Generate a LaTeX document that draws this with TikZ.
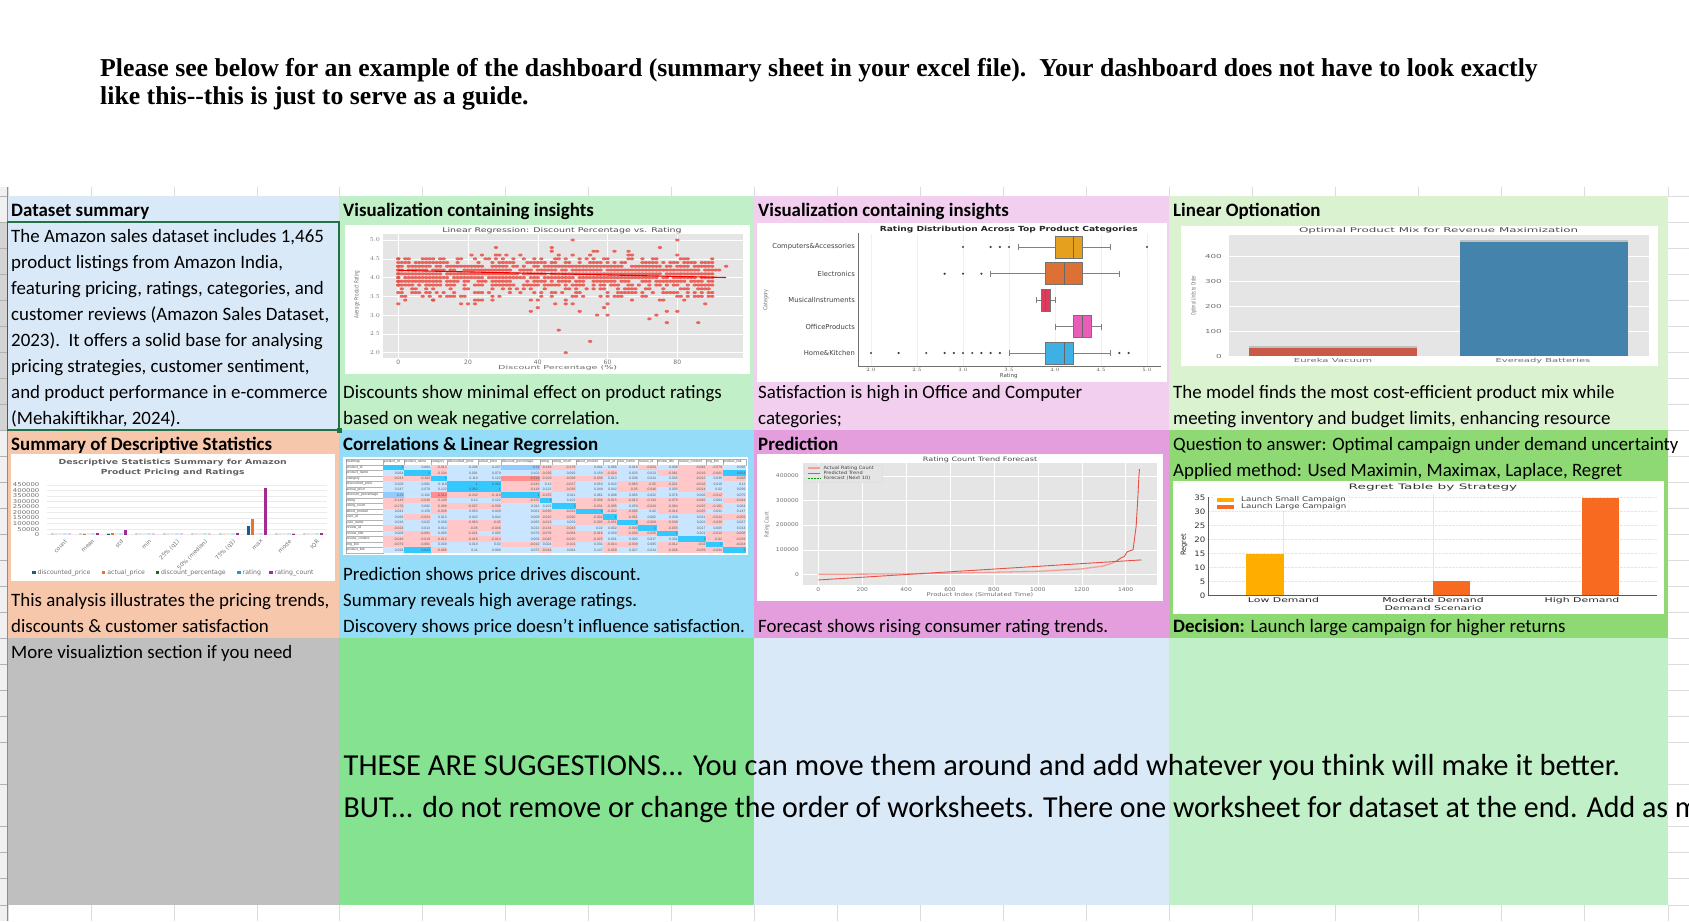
\documentclass[tikz,border=0pt]{standalone}
\usepackage{fontspec}
\usepackage{graphicx}
\setmainfont{Carlito}
\newfontfamily\chartf{DejaVu Sans}
\newfontfamily\heatf{Liberation Sans}
\newfontfamily\titlef{Liberation Serif}
\newcommand{\cf}[1]{\chartf\fontsize{#1}{#1}\selectfont}
\newcommand{\hs}[2]{\scalebox{#1}[1]{#2}}
\definecolor{cA}{HTML}{DAE9F8}\definecolor{cB}{HTML}{C1F0C8}\definecolor{cC}{HTML}{F2CEEF}\definecolor{cD}{HTML}{DAF2D0}
\definecolor{cE}{HTML}{F7C7AC}\definecolor{cF}{HTML}{94DCF8}\definecolor{cG}{HTML}{E49EDD}\definecolor{cH}{HTML}{8ED973}
\definecolor{cI}{HTML}{BFBFBF}\definecolor{cJ}{HTML}{84E291}
\definecolor{gridc}{HTML}{DCDCDC}\definecolor{plotbg}{HTML}{E5E5E5}\definecolor{sel}{HTML}{217346}
\definecolor{tickc}{HTML}{707070}\definecolor{hpink}{HTML}{FFC7C7}\definecolor{hred}{HTML}{FF8F8F}
\definecolor{hblue}{HTML}{C9E5FF}\definecolor{hmid}{HTML}{92CBFF}\definecolor{hcyan}{HTML}{33C9FF}
\definecolor{ptc}{HTML}{EA4F45}\definecolor{lyel}{HTML}{FFAE00}\definecolor{lor}{HTML}{F76A20}
\definecolor{dteal}{HTML}{156082}\definecolor{dor}{HTML}{E97132}\definecolor{dgr}{HTML}{196B24}\definecolor{dbl}{HTML}{0F9ED5}\definecolor{dpu}{HTML}{A02B93}
\definecolor{mred}{HTML}{C85A47}\definecolor{mblu}{HTML}{4484AC}
\definecolor{bA}{HTML}{E5A11E}\definecolor{bB}{HTML}{DD7035}\definecolor{bC}{HTML}{DB3D5B}\definecolor{bD}{HTML}{E85DB8}\definecolor{bE}{HTML}{3FB0E4}
\tikzset{
 x=1pt,y=-1pt,
 body/.style={anchor=base west,inner sep=0pt,font=\fontsize{18.9}{20}\selectfont},
 head/.style={anchor=base west,inner sep=0pt,font=\bfseries\fontsize{18.9}{20}\selectfont},
 big/.style={anchor=base west,inner sep=0pt,font=\fontsize{30.5}{32}\selectfont},
 ttl/.style={anchor=base west,inner sep=0pt,font=\titlef\bfseries\fontsize{25.75}{27}\selectfont},
 ct/.style={inner sep=0pt,text=tickc},
 gl/.style={color=gridc,line width=0.8pt},
}
\newcommand{\boxrow}[9]{%
 % y, colour, wl, wh, q1, q3, med, name, fliers
 \pgfmathsetmacro\wa{871+(#3-2)*92}\pgfmathsetmacro\wb{871+(#4-2)*92}
 \pgfmathsetmacro\qa{871+(#5-2)*92}\pgfmathsetmacro\qb{871+(#6-2)*92}\pgfmathsetmacro\mm{871+(#7-2)*92}
 \draw[black!50,line width=.8pt] (\wa,#1) -- (\wb,#1);
 \draw[black!50,line width=.8pt] (\wa,#1-3) -- (\wa,#1+3) (\wb,#1-3) -- (\wb,#1+3);
 \draw[black!55,fill=#2,line width=.8pt] (\qa,#1-11) rectangle (\qb,#1+11);
 \draw[black!60,line width=.9pt] (\mm,#1-11) -- (\mm,#1+11);
 \node[ct,anchor=east,text=black!75,font=\cf{6.8}] at (855,#1) {#8};
 \foreach \ff in {#9}{
  \pgfmathsetmacro\fx{871+(\ff-2)*92}
  \fill[black!75] (\fx,#1) circle (1.2);
 }
}
\begin{document}
\begin{tikzpicture}
\useasboundingbox (0,0) rectangle (1689,921);
\clip (0,0) rectangle (1689,921);
\fill[white] (0,0) rectangle (1689,921);
% sheet grid on white
\fill[black!6] (0,187) rectangle (7,921);
\fill[black!17] (0,222) rectangle (7,430);
\foreach \gx in {8,91,174,257,339,422,505,588,671,754,837,920,1003,1086,1169,1252,1335,1418,1501,1584,1668}{
 \draw[gl] (\gx,187) -- (\gx,196);
 \draw[gl] (\gx,905) -- (\gx,921);
}
\foreach \gy in {196,222,248,274,300,326,352,378,404,430,456,482,508,534,560,586,612,638,664,690,716,742,784,826,852,878,905}{
 \draw[gl] (1668,\gy) -- (1689,\gy);
 \draw[color=black!30,line width=0.6pt] (0,\gy) -- (7,\gy);
}
\draw[color=black!45,line width=0.9pt] (7.5,187) -- (7.5,921);
% cell fills
\foreach \xa/\ya/\xb/\yb/\cc in {8/196/339/430/cA,339/196/754/430/cB,754/196/1169/430/cC,1169/196/1668/430/cD,
 8/430/339/638/cE,339/430/754/638/cF,754/430/1169/638/cG,1169/430/1668/638/cH,
 8/638/339/905/cI,339/638/754/905/cJ,754/638/1169/905/cA,1169/638/1668/905/cB}{
 \fill[\cc] (\xa,\ya) rectangle (\xb,\yb);
}
% title
\node[ttl] (title1) at (100,76) {Please see below for an example of the dashboard (summary sheet in your excel file).\ \ Your dashboard does not have to look exactly};
\node[ttl] (title2) at (100,104) {like this--this is just to serve as a guide.};
% headers
\node[head] (h1) at (11,216) {Dataset summary};
\node[head] (h2) at (343,216) {Visualization containing insights};
\node[head] (h3) at (758,216) {Visualization containing insights};
\node[head] (h4) at (1173,216) {Linear Optionation};
\node[head] (h5) at (11,450) {Summary of Descriptive Statistics};
\node[head] (h6) at (343,450) {Correlations \& Linear Regression};
\node[head] (h7) at (758,450) {Prediction};
% column 1 text
\node[body] (a1) at (11,242) {The Amazon sales dataset includes 1,465};
\node[body] (a2) at (11,268) {product listings from Amazon India,};
\node[body] (a3) at (11,294) {featuring pricing, ratings, categories, and};
\node[body] (a4) at (11,320) {customer reviews (Amazon Sales Dataset,};
\node[body] (a5) at (11,346) {2023).\ \ It offers a solid base for analysing};
\node[body] (a6) at (11,372) {pricing strategies, customer sentiment,};
\node[body] (a7) at (11,398) {and product performance in e-commerce};
\node[body] (a8) at (11,424) {(Mehakiftikhar, 2024).};
\node[body] (b1) at (343,398) {Discounts show minimal effect on product ratings};
\node[body] (b2) at (343,424) {based on weak negative correlation.};
\node[body] (c1) at (758,398) {Satisfaction is high in Office and Computer};
\node[body] (c2) at (758,424) {categories;};
\node[body] (d1) at (1173,398) {The model finds the most cost-efficient product mix while};
\node[body] (d2) at (1173,424) {meeting inventory and budget limits, enhancing resource};
\node[body] (e1) at (11,606) {This analysis illustrates the pricing trends,};
\node[body] (e2) at (11,632) {discounts \& customer satisfaction};
\node[body] (f1) at (343,580) {Prediction shows price drives discount.};
\node[body] (f2) at (343,606) {Summary reveals high average ratings.};
\node[body] (f3) at (343,632) {Discovery shows price doesn’t influence satisfaction.};
\node[body] (g1) at (758,632) {Forecast shows rising consumer rating trends.};
\node[body] (k1) at (1173,450) {\hs{.99}{Question to answer: Optimal campaign under demand uncertainty}};
\node[body] (k2) at (1173,476) {Applied method: Used Maximin, Maximax, Laplace, Regret};
\node[body] (k3) at (1173,632) {\textbf{Decision:} Launch large campaign for higher returns};
\node[body] (m1) at (11,658) {More visualiztion section if you need};
\node[big] (s1) at (343.5,775) {THESE ARE SUGGESTIONS... You can move them around and add whatever you think will make it better.};
\node[big] (s2) at (343.5,817) {\hs{.98}{BUT... do not remove or change the order of worksheets. There one worksheet for dataset at the end. Add as m}};
% selection
\draw[sel,line width=1.6pt] (7.5,222) rectangle (339,430);
\fill[sel] (336.5,427.5) rectangle (341.5,432.5);

% ---------- scatter ----------
\fill[white] (345,225) rectangle (750,374);
\fill[plotbg] (382.7,234) rectangle (743,357.7);
\foreach \tv in {2,2.5,3,3.5,4,4.5,5}{
 \pgfmathsetmacro\ty{240+(5-\tv)*37.55}
 \draw[white,line width=.5pt] (382.7,\ty) -- (743,\ty);
 \node[ct,anchor=east,font=\cf{6}] (sy\tv) at (380,\ty) {\pgfmathprintnumber[fixed,precision=1,fixed zerofill]{\tv}};
}
\foreach \tv in {0,20,40,60,80}{
 \pgfmathsetmacro\tx{398.3+\tv*3.4875}
 \draw[white,line width=.5pt] (\tx,234) -- (\tx,357.7);
 \node[ct,font=\cf{6}] (sx\tv) at (\tx,362.5) {\tv};
}
\pgfmathsetseed{4242}
\begin{scope}[fill opacity=.85]
\foreach \rt/\pr in {4.5/.36,4.4/.62,4.3/.82,4.2/.92,4.1/.92,4/.92,3.9/.82,3.8/.66,3.7/.36,3.6/.38,3.5/.3,3.4/.1,3.3/.1}{
 \pgfmathsetmacro\py{240+(5-\rt)*37.55}
 \foreach \dx in {0,1,...,90}{
  \pgfmathsetmacro\rr{rnd}
  \ifdim\rr pt<\pr pt
   \pgfmathsetmacro\px{398.3+\dx*3.4875}
   \fill[ptc] (\px,\py) ellipse (2.2 and 1.5);
  \fi
 }
}
\foreach \dx/\rt in {0/4.5,0/4.4,0/4.3,0/4.2,0/4.1,0/4,0/3.9,0/3.8,0/3.6,50/5,80/5,28/4.8,44/4.8,75/4.8,44/4.7,56/4.7,57/4.7,62/4.7,66/4.7,21/4.6,24/4.6,28/4.6,29/4.6,31/4.6,35/4.6,46/4.6,50/4.6,55/4.6,66/4.6,67/4.6,80/4.6,
 38/3.1,40/3.2,46/2.6,55/2.3,48/2,72/2.9,74/3,77/2.8,86/2.8,80/3.1,77/3.1,60/3,57/3,52/3.1,59/3.2,88/3.3,22/3.3,10/3.4,60/3.3,48/3.3,50/3.3,92/4.2,94/4.3,90/4.4,91/4.2}{
 \pgfmathsetmacro\py{240+(5-\rt)*37.55}
 \pgfmathsetmacro\px{398.3+\dx*3.4875}
 \fill[ptc] (\px,\py) ellipse (2.2 and 1.5);
}
\end{scope}
\draw[red!95!black,line width=1.1pt] (398.3,270.4) -- (726,277.5);
\node[ct,text=black!70,font=\cf{6.5}] (st) at (562,230.7) {\hs{1.45}{Linear Regression: Discount Percentage vs. Rating}};
\node[ct,font=\cf{5.4}] (sxl) at (557.7,367.7) {\hs{1.78}{Discount Percentage (\%)}};
\node[ct,rotate=90,font=\cf{6}] (syl) at (357,294.5) {\hs{.68}{Average Product Rating}};

% ---------- boxplot ----------
\fill[white] (756.6,223) rectangle (1167,382);
\foreach \tv in {2,2.5,3,3.5,4,4.5,5}{
 \pgfmathsetmacro\tx{871+(\tv-2)*92}
 \draw[black!6,line width=.8pt] (\tx,234) -- (\tx,366);
 \node[ct,font=\cf{5.5},text=black!70] (bx\tv) at (\tx,370) {\pgfmathprintnumber[fixed,precision=1,fixed zerofill]{\tv}};
}
\draw[tickc,line width=.7pt] (858,233) -- (858,366) -- (1161,366);
\boxrow{247}{bA}{3.6}{4.6}{4.0}{4.3}{4.2}{Computers\&Accessories}{3.0,3.3,3.4,3.5,5.0}
\boxrow{273.7}{bB}{3.3}{4.7}{3.9}{4.3}{4.1}{Electronics}{2.8,3.0,3.2}
\boxrow{300}{bC}{3.8}{4.0}{3.85}{3.95}{3.9}{MusicalInstruments}{}
\boxrow{326.7}{bD}{4.0}{4.5}{4.2}{4.4}{4.3}{OfficeProducts}{}
\boxrow{353}{bE}{3.5}{4.6}{3.9}{4.2}{4.1}{Home\&Kitchen}{2.0,2.3,2.6,2.8,2.9,3.0,3.1,3.2,3.3,3.4,4.7,4.8}
\node[ct,text=black!85,font=\chartf\bfseries\fontsize{7}{7}\selectfont] (bt) at (1008.7,229.3) {\hs{1.3}{Rating Distribution Across Top Product Categories}};
\node[ct,font=\cf{5.5},text=black!70] (bxl) at (1008.7,375.5) {Rating};
\node[ct,rotate=90,font=\cf{5.5}] (byl) at (766,300) {\hs{.85}{Category}};

% ---------- product mix ----------
\fill[white] (1181,226) rectangle (1658,366);
\fill[plotbg] (1229,235) rectangle (1649,356);
\foreach \tv in {0,100,200,300,400}{
 \pgfmathsetmacro\ty{356-\tv*.2494}
 \draw[white,line width=.5pt] (1229,\ty) -- (1649,\ty);
 \node[ct,anchor=east,font=\cf{5.5}] (my\tv) at (1222,\ty) {\hs{1.6}{\tv}};
}
\fill[black!25] (1249,346) rectangle (1417,356);
\fill[mred] (1249,347.5) rectangle (1417,356);
\fill[black!25] (1460,240) rectangle (1628,356);
\fill[mblu] (1460,241.5) rectangle (1628,356);
\node[ct,text=black!70,font=\cf{6.5}] (mt) at (1438.6,231) {\hs{1.83}{Optimal Product Mix for Revenue Maximization}};
\node[ct,font=\cf{5.5}] (ma) at (1333,360.5) {\hs{1.83}{Eureka Vacuum}};
\node[ct,font=\cf{5.5}] (mb) at (1543,360.5) {\hs{1.81}{Eveready Batteries}};
\node[ct,rotate=90,font=\cf{6}] (myl) at (1194,295.7) {\hs{.58}{Optimal Units to Order}};

% ---------- descriptive ----------
\fill[white] (11,454) rectangle (335,581);
\foreach \tk/\tl in {0/0,50/50000,100/100000,150/150000,200/200000,250/250000,300/300000,350/350000,400/400000,450/450000}{
 \pgfmathsetmacro\ty{534.7-\tk*0.111}
 \draw[black!8,line width=.5pt] (46.7,\ty) -- (326.7,\ty);
 \node[ct,anchor=east,font=\cf{5.3}] (dy\tk) at (39.5,\ty) {\hs{1.3}{\tl}};
}
\foreach \nm [count=\ci from 0] in {count,mean,std,min,25\% (q1),50\% (median),75\% (q3),max,mode,IQR}{
 \pgfmathsetmacro\cx{60.7+\ci*28}
 \foreach \ofs/\lc in {-2/dteal!25,-1/dor!25,0/dgr!12,1/dbl!25,2/dpu!25}{
  \fill[\lc] (\cx+\ofs*4.2-1.6,534.7) rectangle (\cx+\ofs*4.2+1.6,533.4);
 }
 \node[ct,rotate=45,anchor=north east,font=\cf{5.6}] (dl\ci) at (\cx+4,539) {\nm};
}
\foreach \ci/\ofs/\vv/\lc in {1/2/18/dpu,2/-2/10/dteal,2/-1/11/dor,2/2/43/dpu,1/-1/5/dor,6/2/15/dpu,7/-2/80/dteal,7/-1/140/dor,7/2/425/dpu,8/2/9/dpu,9/2/15/dpu}{
 \pgfmathsetmacro\cx{60.7+\ci*28}
 \pgfmathsetmacro\toy{534.7-\vv*0.111}
 \fill[\lc] (\cx+\ofs*4.2-1.6,534.7) rectangle (\cx+\ofs*4.2+1.6,\toy);
}
\node[ct,font=\chartf\bfseries\fontsize{7}{7}\selectfont,text=black!62] (dt1) at (172.7,462.7) {\hs{1.33}{Descriptive Statistics Summary for Amazon}};
\node[ct,font=\chartf\bfseries\fontsize{7}{7}\selectfont,text=black!62] (dt2) at (172.7,472.7) {\hs{1.3}{Product Pricing and Ratings}};
\foreach \lx/\lc/\lt in {34/dteal/discounted\_price,103.7/dor/actual\_price,157.3/dgr/discount\_percentage,239/dbl/rating,271/dpu/rating\_count}{
 \fill[\lc] (\lx-1.7,571) rectangle (\lx+1.7,574.4);
 \node[ct,anchor=west,font=\cf{6.2}] at (\lx+3.5,572.7) {\lt};
}

% ---------- heatmap ----------
\fill[white] (343,457) rectangle (748,555);
\def\colx{{18,130,192,272,322,415,484,600,636,708,790,832,895,950,1015,1098,1148,1218}}
\def\rowh{5.49}
\foreach \hn [count=\c from 0] in {heatmap,product\_id,product\_name,category,discounted\_price,actual\_price,discount\_percentage,rating,rating\_count,about\_product,user\_id,user\_name,review\_id,review\_title,review\_content,img\_link,product\_link}{
 \pgfmathsetmacro\xa{340+\colx[\c]/3}
 \pgfmathtruncatemacro\cn{\c+1}
 \pgfmathsetmacro\xb{340+\colx[\cn]/3}
 \draw[black!30,line width=.25pt] (\xa,459.3) rectangle (\xb,459.3+\rowh);
 \node[inner sep=0pt,anchor=west,text=black!70,font=\heatf\fontsize{3.4}{3.4}\selectfont] (hh\c) at (\xa+.4,459.3+.5*\rowh) {\hn};
}
\foreach \nm/\vals [count=\ri] in {
product\_id/{1,0.064,-0.013,0.206,0.247,0.29,-0.149,-0.176,0.041,0.066,0.016,-0.024,0.008,-0.046,-0.079,0.096},
product\_name/{0.064,1,-0.104,0.091,0.079,0.102,-0.036,0.092,0.158,-0.024,0.025,0.013,-0.061,-0.019,-0.061,0.824},
category/{-0.013,-0.104,1,0.119,0.122,-0.314,-0.109,-0.098,-0.039,0.013,0.038,0.014,0.005,-0.012,0.039,-0.068},
discounted\_price/{0.206,0.091,0.119,1,0.962,-0.242,0.12,-0.027,0.053,0.042,-0.063,-0.05,-0.021,-0.016,0.019,0.11},
actual\_price/{0.247,0.079,0.122,0.962,1,-0.118,0.122,-0.036,0.049,0.042,-0.05,-0.046,0.005,-0.014,0.02,0.099},
discount\_percentage/{0.29,0.102,-0.314,-0.242,-0.118,1,-0.155,0.011,0.061,0.008,0.065,0.022,0.076,0.006,-0.012,0.075},
rating/{-0.149,-0.036,-0.109,0.12,0.122,-0.155,1,0.102,-0.036,-0.015,-0.013,-0.134,-0.076,-0.045,0.004,-0.044},
rating\_count/{-0.176,0.092,-0.098,-0.027,-0.036,0.011,0.102,1,-0.031,-0.095,0.059,-0.043,-0.084,-0.025,-0.101,0.064},
about\_product/{0.041,0.158,-0.039,0.053,0.049,0.061,-0.036,-0.031,1,-0.002,-0.005,0.02,-0.016,-0.025,0.031,0.147},
user\_id/{0.066,-0.024,0.013,0.042,0.042,0.008,-0.015,-0.095,-0.002,1,-0.051,0.002,0.039,0.031,-0.014,-0.009},
user\_name/{0.016,0.025,0.038,-0.063,-0.05,0.065,-0.013,0.059,-0.005,-0.051,1,-0.009,-0.039,0.002,-0.039,0.027},
review\_id/{-0.024,0.013,0.014,-0.05,-0.046,0.022,-0.134,-0.043,0.02,0.002,-0.009,1,-0.035,0.017,0.005,0.014},
review\_title/{0.008,-0.061,0.005,-0.021,0.005,0.076,-0.076,-0.084,-0.016,0.039,-0.039,-0.035,1,0.201,-0.012,-0.006},
review\_content/{-0.046,-0.019,-0.012,-0.016,-0.014,0.006,-0.045,-0.025,-0.025,0.031,0.002,0.017,0.201,1,-0.02,-0.039},
img\_link/{-0.079,-0.061,0.039,0.019,0.02,-0.012,0.004,-0.101,0.031,-0.014,-0.039,0.005,-0.012,-0.02,1,-0.044},
product\_link/{0.096,0.824,-0.068,0.11,0.099,0.075,-0.044,0.064,0.147,-0.009,0.027,0.014,-0.006,-0.039,-0.044,1}}{
 \pgfmathsetmacro\ya{459.3+\ri*\rowh}
 \pgfmathsetmacro\xa{340+18/3}
 \draw[black!30,line width=.25pt] (\xa,\ya) rectangle (340+130/3,\ya+\rowh);
 \node[inner sep=0pt,anchor=west,text=black!70,font=\heatf\fontsize{3.4}{3.4}\selectfont] (hr\ri) at (\xa+.4,\ya+.5*\rowh) {\nm};
 \foreach \v [count=\c] in \vals {
  \pgfmathsetmacro\xa{340+\colx[\c]/3}
  \pgfmathtruncatemacro\cn{\c+1}
  \pgfmathsetmacro\xb{340+\colx[\cn]/3}
  \ifdim\v pt<-0.3pt \def\hc{hred}\else\ifdim\v pt<0pt \def\hc{hpink}\else\ifdim\v pt<0.25pt \def\hc{hblue}\else\ifdim\v pt<0.8pt \def\hc{hmid}\else\def\hc{hcyan}\fi\fi\fi\fi
  \fill[\hc] (\xa,\ya) rectangle (\xb,\ya+\rowh);
  \node[inner sep=0pt,anchor=east,text=black!65,font=\heatf\fontsize{3.4}{3.4}\selectfont] (hv\ri-\c) at (\xb-.4,\ya+.5*\rowh) {\v};
 }
}

% ---------- forecast ----------
\fill[white] (757,454) rectangle (1163,601);
\fill[plotbg] (802.7,463.3) rectangle (1156.7,584.7);
\foreach \tk/\tl in {0/0,100/100000,200/200000,300/300000,400/400000}{
 \pgfmathsetmacro\ty{574.3-\tk*0.246}
 \draw[white,line width=.4pt] (802.7,\ty) -- (1156.7,\ty);
 \node[ct,anchor=east,font=\cf{5.2}] (py\tk) at (799,\ty) {\hs{1.15}{\tl}};
}
\foreach \tv in {0,200,400,600,800,1000,1200,1400}{
 \pgfmathsetmacro\tx{818.3+\tv*.2195}
 \draw[white,line width=.4pt] (\tx,463.3) -- (\tx,584.7);
 \node[ct,font=\cf{5.2}] (px\tv) at (\tx,589.3) {\hs{1.15}{\tv}};
}
\begin{scope}[shift={(818.3,574.3)},x=.2195pt,y=.246pt]
 \draw[color=ptc!55,line width=1.3pt,line join=round] (0,0) -- (400,1.5) -- (1000,12) -- (1200,22) -- (1300,34) -- (1340,46) -- (1360,55);
 \draw[color=ptc,line width=.9pt,line join=round] (1360,55) -- (1381,68) -- (1393,72) -- (1408,92) -- (1434,100) -- (1445,175) -- (1448,195) -- (1456,315) -- (1460,390) -- (1463,428);
 \draw[color=ptc,line width=.9pt] (0,-23) -- (1462,58);
 \draw[color=green!60!black,line width=.8pt] (1462,58) -- (1472,58.5);
\end{scope}
\draw[color=black!12,line width=.3pt,fill=plotbg] (804,464.7) rectangle (882,482);
\draw[color=ptc!55,line width=1.3pt] (807.5,468) -- (820,468);
\draw[color=ptc,line width=.9pt] (807.5,473) -- (820,473);
\draw[color=green!60!black,line width=.7pt,dash pattern=on 2pt off 1pt] (807.5,478.3) -- (820,478.3);
\node[ct,anchor=west,text=black!75,font=\cf{4.4}] (pl1) at (823.3,468) {\hs{1.15}{Actual Rating Count}};
\node[ct,anchor=west,text=black!75,font=\cf{4.4}] (pl2) at (823.3,473) {\hs{1.15}{Predicted Trend}};
\node[ct,anchor=west,text=black!75,font=\cf{4.4}] (pl3) at (823.3,478.3) {\hs{1.15}{Forecast (Next 10)}};
\node[ct,text=black!70,font=\cf{6}] (pt) at (980,459.7) {\hs{1.35}{Rating Count Trend Forecast}};
\node[ct,font=\cf{5.2}] (pxl) at (980,595) {\hs{1.3}{Product Index (Simulated Time)}};
\node[ct,rotate=90,font=\cf{5.5}] (pyl) at (767,524.7) {\hs{.72}{Rating Count}};

% ---------- regret ----------
\fill[white] (1173,481) rectangle (1664,614);
\foreach \tv in {0,5,10,15,20,25,30,35}{
 \pgfmathsetmacro\ty{595.3-\tv*2.79}
 \draw[black!10,line width=.4pt,densely dotted] (1208,\ty) -- (1657,\ty);
 \node[ct,anchor=east,text=black!80,font=\cf{7.5}] (ry\tv) at (1205.5,\ty) {\hs{1.15}{\tv}};
}
\foreach \tx in {1283.5,1433,1582}{
 \draw[black!10,line width=.4pt] (\tx,495) -- (\tx,595.3);
}
\fill[lyel] (1246,595.3) rectangle (1283.5,553.5);
\fill[lor] (1433,595.3) rectangle (1470,581.4);
\fill[lor] (1582,595.3) rectangle (1619,497.7);
\draw[black!65,line width=.7pt] (1208,497) -- (1208,595.3) -- (1657,595.3);
\draw[black!10,fill=white,line width=.4pt,rounded corners=1pt] (1213,495) rectangle (1349,511);
\fill[lyel] (1217,498) rectangle (1234,502);
\fill[lor] (1217,505) rectangle (1234,509);
\node[ct,anchor=west,text=black!75,font=\cf{6.6}] (rl1) at (1241,500) {\hs{1.31}{Launch Small Campaign}};
\node[ct,anchor=west,text=black!75,font=\cf{6.6}] (rl2) at (1241,507) {\hs{1.31}{Launch Large Campaign}};
\node[ct,text=black!80,font=\cf{7.5}] (rt) at (1433,487.7) {\hs{1.82}{Regret Table by Strategy}};
\node[ct,anchor=base,text=black!85,font=\cf{6.6}] (ra) at (1283.5,602.5) {\hs{1.65}{Low Demand}};
\node[ct,anchor=base,text=black!85,font=\cf{6.6}] (rb) at (1433,602.5) {\hs{1.65}{Moderate Demand}};
\node[ct,anchor=base,text=black!85,font=\cf{6.6}] (rc) at (1582,602.5) {\hs{1.65}{High Demand}};
\node[ct,anchor=base,text=black!85,font=\cf{6.6}] (rx) at (1433,610) {\hs{1.65}{Demand Scenario}};
\node[ct,rotate=90,text=black!85,font=\cf{7}] (ryl) at (1184,545) {\hs{.95}{Regret}};
\end{tikzpicture}
\end{document}
